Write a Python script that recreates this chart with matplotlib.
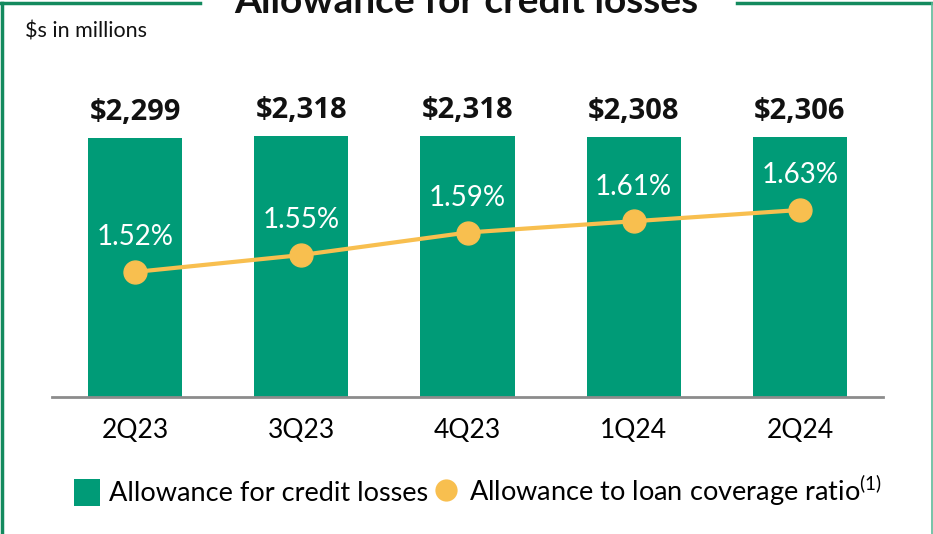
import matplotlib
matplotlib.use("Agg")
import matplotlib.pyplot as plt
from matplotlib.lines import Line2D
from matplotlib.patches import Patch

quarters = ["2Q23", "3Q23", "4Q23", "1Q24", "2Q24"]
allowance = [2299, 2318, 2318, 2308, 2306]
coverage = [1.52, 1.55, 1.59, 1.61, 1.63]

BAR = "#009b77"
GOLD = "#f8bf4f"
FRAME = "#138a5e"

plt.rcParams["font.family"] = ["Lato", "DejaVu Sans"]
plt.rcParams["mathtext.fontset"] = "custom"
plt.rcParams["mathtext.rm"] = "Lato"

fig = plt.figure(figsize=(9.33, 5.34), dpi=100)
W, H = 933, 534

# axes box in pixels: left 52, right 883, bottom 397 (from top), top 59
ax = fig.add_axes([52 / W, (H - 397) / H, 831 / W, 338 / H])
x = range(len(quarters))
ax.bar(x, allowance, width=0.566, color=BAR, zorder=2)
ax.set_xlim(-0.5, 4.5)
ax.set_ylim(0, 3000)
for s in ["top", "right", "left"]:
    ax.spines[s].set_visible(False)
ax.spines["bottom"].set_color("#8c8c8c")
ax.spines["bottom"].set_linewidth(2)
ax.set_yticks([])
ax.set_xticks(list(x))
ax.set_xticklabels(quarters, fontsize=19)
ax.tick_params(axis="x", length=0, pad=15)

for i, v in enumerate(allowance):
    ax.annotate(f"${v:,}", (i, v), xytext=(0, 13), textcoords="offset points",
                ha="center", va="baseline", fontsize=21, fontweight="bold",
                family=["Open Sans", "DejaVu Sans"], color="#111111")

# coverage ratio on its own scale over the bars
ax2 = ax.twinx()
ax2.set_ylim(1.298, 1.898)
ax2.axis("off")
ax2.plot(x, coverage, color=GOLD, lw=3, marker="o", ms=16.5, zorder=3)
for i, v in enumerate(coverage):
    ax2.annotate(f"{v:.2f}%", (i, v), xytext=(0, 25), textcoords="offset points",
                 ha="center", va="center", fontsize=20, color="white")

# frame with a gap at the top for the heading
fig.add_artist(Line2D([2 / W, 2 / W], [0, 1 - 3 / H], color=FRAME, lw=2.5))
fig.add_artist(Line2D([0, 200 / W], [1 - 3 / H, 1 - 3 / H], color=FRAME, lw=2.5))
fig.add_artist(Line2D([737 / W, 1], [1 - 3 / H, 1 - 3 / H], color=FRAME, lw=2.5))
fig.add_artist(Line2D([931.5 / W, 931.5 / W], [0, 1 - 3 / H], color="#5fb998", lw=1.2))

fig.text(0.5, 1 - 13 / H, "Allowance for credit losses", ha="center", va="baseline",
         fontsize=28, fontweight="bold", color="#111111")
fig.text(25 / W, 1 - 31 / H, "$s in millions", ha="left", va="center",
         fontsize=15.5, color="#111111")

handles = [Patch(facecolor=BAR, edgecolor="none"),
           Line2D([], [], color="none", marker="o", ms=16, markerfacecolor=GOLD,
                  markeredgecolor="none")]
labels = ["Allowance for credit losses", r"Allowance to loan coverage ratio$^{(1)}$"]
fig.legend(handles, labels, loc="center left", bbox_to_anchor=(63 / W, 1 - 491 / H),
           ncol=2, frameon=False, fontsize=19.5, handlelength=0.95, handleheight=1.15,
           handletextpad=0.35, columnspacing=0.2, borderaxespad=0)

fig.savefig("out.png", dpi=100)
